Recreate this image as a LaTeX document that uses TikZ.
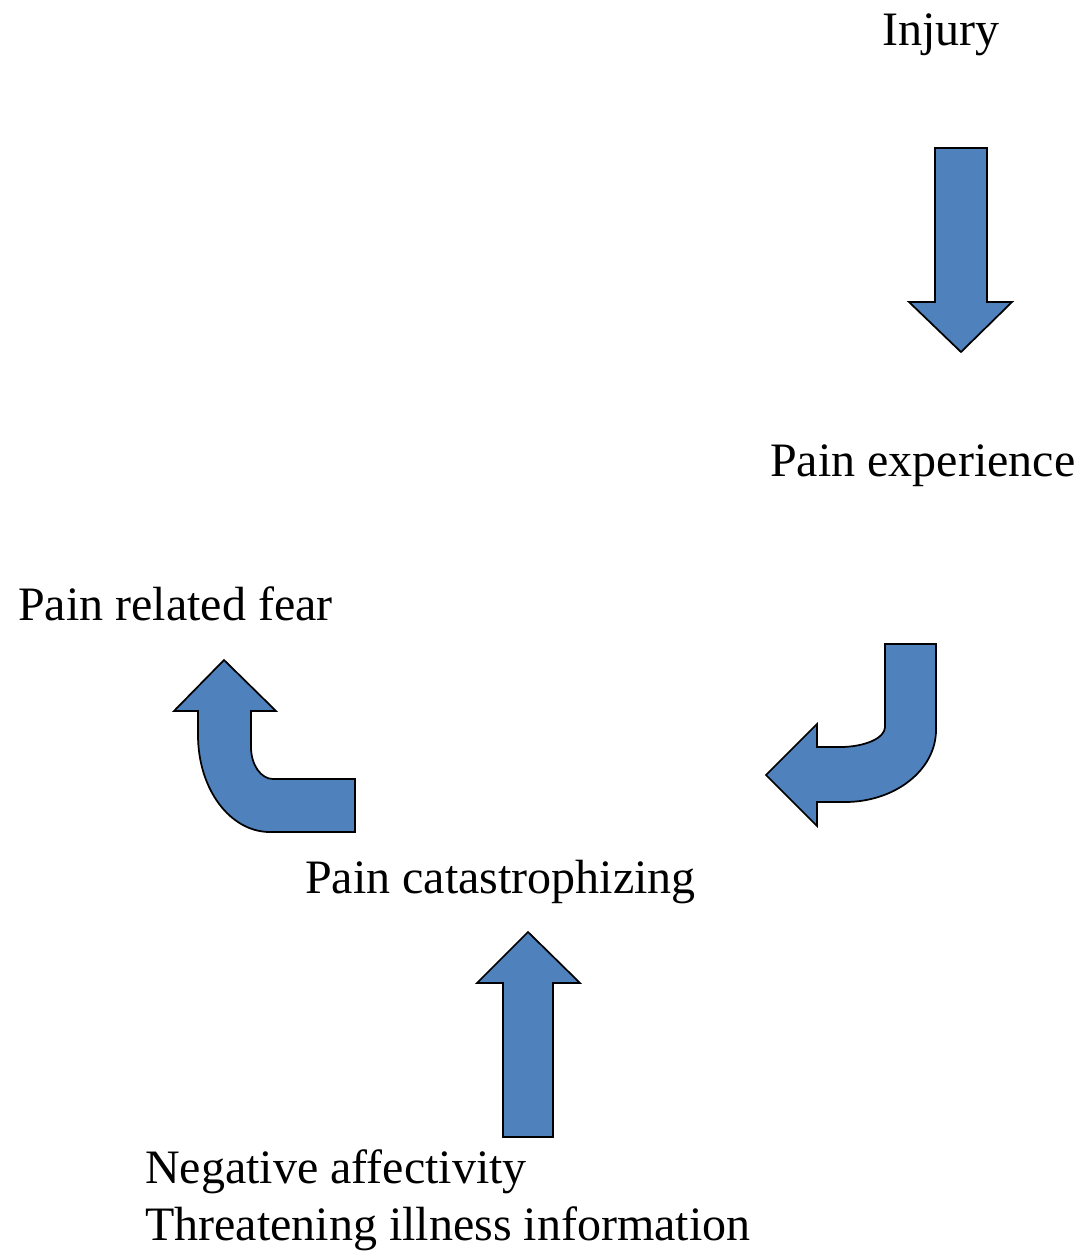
\documentclass[tikz,border=0pt]{standalone}
\usepackage{fontspec}
\setmainfont{Liberation Serif}
\definecolor{arrowblue}{HTML}{4F81BD}
\tikzset{
  lbl/.style={anchor=base west, inner sep=0pt, font=\fontsize{36}{43}\selectfont},
  blockarrow/.style={fill=arrowblue, draw=black, line width=1.3pt, line join=miter}
}
\begin{document}
\begin{tikzpicture}[x=0.75pt,y=-0.75pt]
\useasboundingbox (0,0) rectangle (1082,1253);
% labels
\node[lbl] (injury) at (882,45) {Injury};
\node[lbl] (painexp) at (770,476) {Pain experience};
\node[lbl] (fear) at (18,620) {Pain related fear};
\node[lbl] (catas) at (305,893) {Pain catastrophizing};
\node[lbl] (neg) at (145,1183) {Negative affectivity};
\node[lbl] (threat) at (145,1240) {Threatening illness information};
% down arrow
\draw[blockarrow] (935,148) -- (987,148) -- (987,302) -- (1012,302) -- (961,352) -- (909,302) -- (935,302) -- cycle;
% up arrow
\draw[blockarrow] (503,1137) -- (553,1137) -- (553,983) -- (580,983) -- (528,932) -- (477,983) -- (503,983) -- cycle;
% right curved arrow
\draw[blockarrow] (885,644) -- (936,644) -- (936,730)
  .. controls (936,770) and (895,802) .. (845,802)
  -- (817,802) -- (817,826) -- (766,775) -- (817,724) -- (817,747) -- (840,747)
  .. controls (865,747) and (885,738) .. (885,727) -- cycle;
% left curved arrow
\draw[blockarrow] (355,832) -- (355,779) -- (273,779)
  .. controls (261,779) and (251,765) .. (251,747)
  -- (251,711) -- (276,711) -- (224,660) -- (174,711) -- (198,711) -- (198,735)
  .. controls (198,789) and (230,832) .. (270,832) -- cycle;
\end{tikzpicture}
\end{document}
